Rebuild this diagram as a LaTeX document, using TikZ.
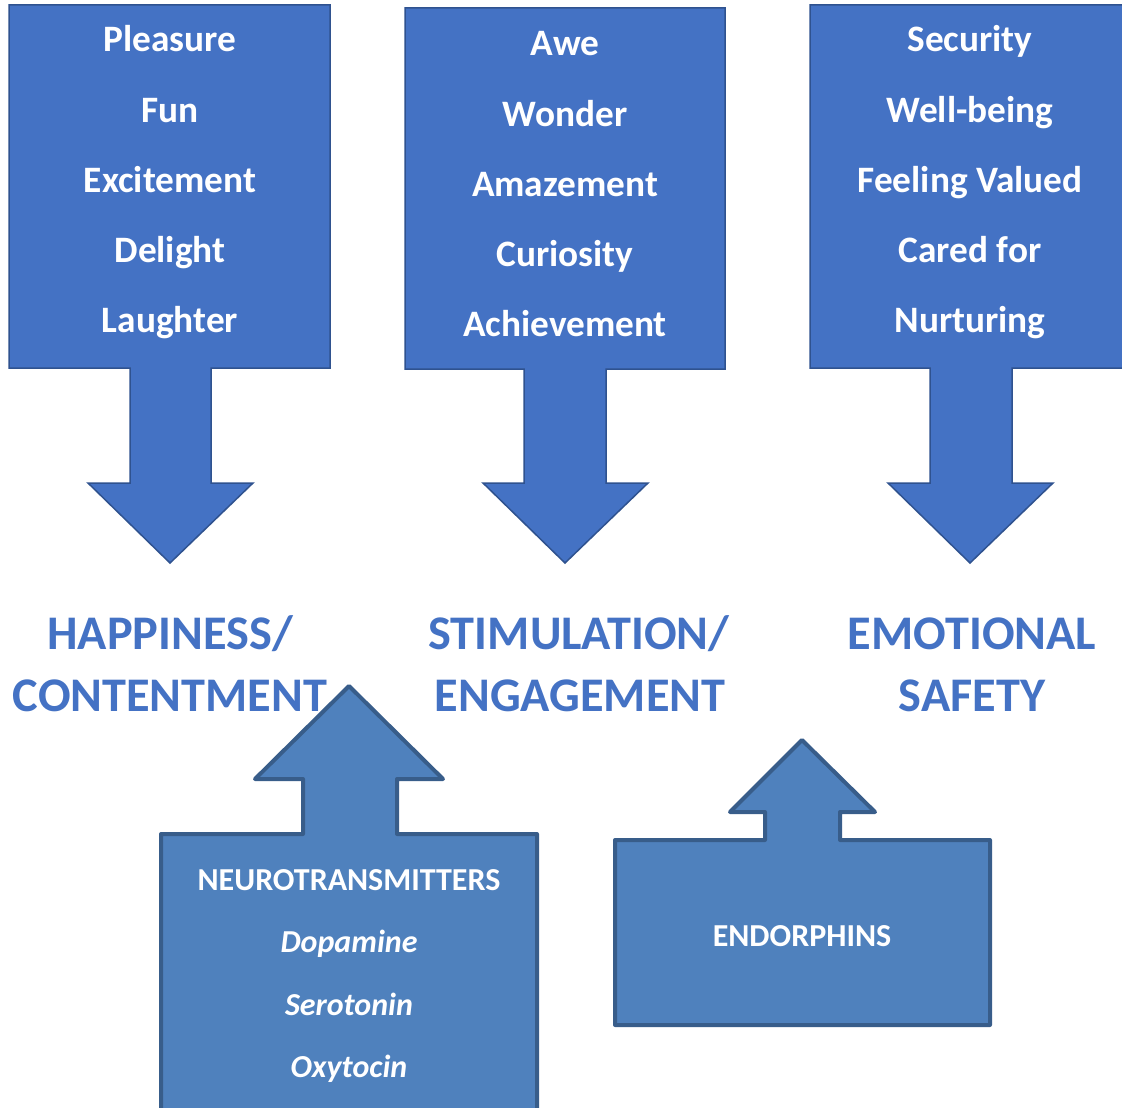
\documentclass[tikz,border=0pt]{standalone}
\usepackage{fontspec}
\setmainfont{Carlito}
\definecolor{topfill}{HTML}{4472C4}
\definecolor{topline}{HTML}{2F528F}
\definecolor{botfill}{HTML}{4F81BD}
\definecolor{botline}{HTML}{385D8A}
\definecolor{labelblue}{HTML}{4472C4}
\begin{document}
\begin{tikzpicture}[x=1pt,y=-1pt,
  topcallout/.style={fill=topfill,draw=topline,line width=1.5pt,line join=miter},
  botcallout/.style={fill=botfill,draw=botline,line width=4pt,line join=round},
  toptext/.style={text=white,font=\fontsize{37.3}{40}\selectfont\bfseries,anchor=base,inner sep=0pt},
  biglabel/.style={text=labelblue,font=\fontsize{48.3}{52}\selectfont\bfseries,anchor=base,inner sep=0pt},
  bothead/.style={text=white,font=\fontsize{32}{34}\selectfont\bfseries,anchor=base,inner sep=0pt},
  botitem/.style={text=white,font=\fontsize{32}{34}\selectfont\bfseries\itshape,anchor=base,inner sep=0pt}]
\useasboundingbox (0,0) rectangle (1122,1108);
\clip (0,0) rectangle (1122,1108);
\fill[white] (0,0) rectangle (1122,1108);

% top callouts
\draw[topcallout] (9,5) -- (330,5) -- (330,368) -- (211,368) -- (211,483) -- (253,483) -- (170,563) -- (88,483) -- (130,483) -- (130,368) -- (9,368) -- cycle;
\draw[topcallout] (405,8) -- (725,8) -- (725,369) -- (606,369) -- (606,483) -- (648,483) -- (565,563) -- (483,483) -- (524,483) -- (524,369) -- (405,369) -- cycle;
\draw[topcallout] (810,5) -- (1135,5) -- (1135,368) -- (1012,368) -- (1012,483) -- (1053,483) -- (970,563) -- (888,483) -- (930,483) -- (930,368) -- (810,368) -- cycle;

\node[toptext] (a1) at (170,52) {Pleasure};
\node[toptext] (a2) at (170,122) {Fun};
\node[toptext] (a3) at (170,192) {Excitement};
\node[toptext] (a4) at (170,262) {Delight};
\node[toptext] (a5) at (170,332) {Laughter};

\node[toptext] (b1) at (565,56) {Awe};
\node[toptext] (b2) at (565,126) {Wonder};
\node[toptext] (b3) at (565,196) {Amazement};
\node[toptext] (b4) at (565,266) {Curiosity};
\node[toptext] (b5) at (565,336) {Achievement};

\node[toptext] (c1) at (970,52) {Security};
\node[toptext] (c2) at (970,122) {Well-being};
\node[toptext] (c3) at (970,192) {Feeling Valued};
\node[toptext] (c4) at (970,262) {Cared for};
\node[toptext] (c5) at (970,332) {Nurturing};

% big labels
\node[biglabel] (h1) at (170,649) {HAPPINESS/};
\node[biglabel] (h2) at (170,711) {CONTENTMENT};
\node[biglabel] (s1) at (579,649) {STIMULATION/};
\node[biglabel] (s2) at (580,711) {ENGAGEMENT};
\node[biglabel] (e1) at (972,649) {EMOTIONAL};
\node[biglabel] (e2) at (972,711) {SAFETY};

% bottom callouts
\draw[botcallout] (161,834) -- (303,834) -- (303,779) -- (255,779) -- (349,686) -- (443,779) -- (397,779) -- (397,834) -- (537,834) -- (537,1125) -- (161,1125) -- cycle;
\draw[botcallout] (615,840) -- (765,840) -- (765,812) -- (730,812) -- (802,740) -- (875,812) -- (840,812) -- (840,840) -- (990,840) -- (990,1025) -- (615,1025) -- cycle;

\node[bothead] (n0) at (349,890) {NEUROTRANSMITTERS};
\node[botitem] (n1) at (349,952) {Dopamine};
\node[botitem] (n2) at (349,1015) {Serotonin};
\node[botitem] (n3) at (349,1077) {Oxytocin};
\node[bothead] (en) at (802,946) {ENDORPHINS};
\end{tikzpicture}
\end{document}
